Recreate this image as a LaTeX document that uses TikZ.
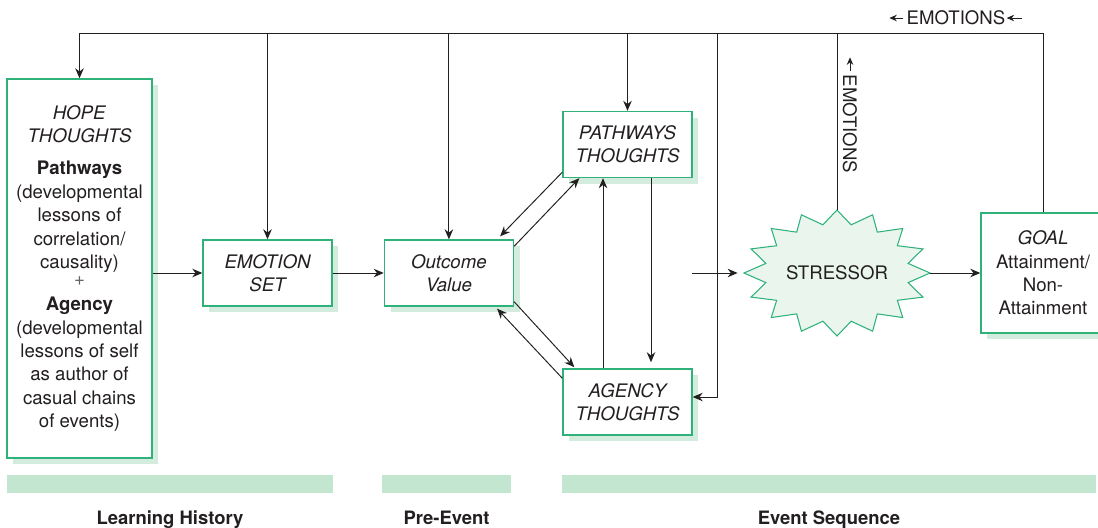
\documentclass[tikz,border=0pt]{standalone}
\usepackage{fontspec}
\setmainfont{TeX Gyre Heros}
\usetikzlibrary{arrows.meta,positioning,shapes.geometric,shadows,calc}
\definecolor{boxgreen}{HTML}{2FB27A}
\definecolor{shadegreen}{HTML}{D3ECDE}
\definecolor{bargreen}{HTML}{C2E6D0}
\definecolor{starfill}{HTML}{EAF5EE}
\definecolor{ink}{HTML}{231F20}
\newcommand{\dgmfont}{\fontsize{10.6}{13.3}\selectfont}

\begin{document}
\begin{tikzpicture}[
            x=0.2mm, y=-0.2mm,
            font=\dgmfont, text=ink,
            box/.style={draw=boxgreen, line width=0.8pt, fill=white,
            minimum width=25.8mm, minimum height=13.2mm,
            inner sep=1pt, align=center,
            drop shadow={shadow xshift=1.25mm, shadow yshift=-1.25mm,
            fill=shadegreen, opacity=1}},
            ibox/.style={box, font=\dgmfont\itshape},
            bar/.style={fill=bargreen, minimum height=3.6mm, inner sep=0pt},
            phase/.style={font=\fontsize{10.5}{12}\selectfont\bfseries, inner sep=0pt},
            lbl/.style={inner sep=0pt},
            ar/.style={-{Stealth[length=2mm,width=1.7mm]}, line width=0.55pt, draw=ink},
            ln/.style={line width=0.55pt, draw=ink},
            tip/.style={-{Stealth[length=1.5mm,width=1.3mm]}, line width=0.5pt, draw=ink}
        ]
            \path[use as bounding box, clip] (0,0) rectangle (1098,527);
% learning history and pre-event boxes
            \node[box, minimum width=29mm, minimum height=75.8mm] (hope) at (79.5,268.5)
              {\textit{HOPE}\\\textit{THOUGHTS}\\[5pt]\textbf{Pathways}\\(developmental\\lessons of\\correlation/\\causality)\\[-3.5pt]{\color{ink!70}+}\\[1pt]\textbf{Agency}\\(developmental\\lessons of self\\as author of\\casual chains\\of events)};
            \node[ibox] (emo) at (267.5,273) {EMOTION\\SET};
            \node[ibox, right=10.2mm of emo] (ov) {Outcome\\Value};
% event sequence
            \node[ibox] (pw) at (627.5,144.5) {PATHWAYS\\THOUGHTS};
            \node[ibox, below=38mm of pw] (ag) {AGENCY\\THOUGHTS};
            \coordinate (stc) at (837,273);
            \draw[draw=boxgreen, line width=0.6pt, fill=starfill]
              ($(stc)+(90:93 and 63)$)
              \foreach \k in {1,...,31} {
                -- ($(stc)+({90+11.25*\k}:{(0.89+0.11*cos(180*\k))*93} and {(0.89+0.11*cos(180*\k))*63})$)
              } -- cycle;
            \node[ellipse, minimum width=37.2mm, minimum height=25.2mm, inner sep=0pt] (st) at (stc) {STRESSOR};
            \node[box, minimum width=24.8mm, minimum height=24mm] (goal) at (1043,273)
              {\textit{GOAL}\\Attainment/\\Non-\\Attainment};
% feedback rail
            \coordinate (rail) at (0,33);
            \coordinate (ret)  at (717,397);
            \coordinate (pair) at (692,273);
            \node[lbl] (emtop) at (956,18) {EMOTIONS};
            \node[lbl, rotate=-90] (emside) at (850,124) {EMOTIONS};
            \draw[tip] ([xshift=-0.6mm]emtop.west) -- ++(-14,0);
            \draw[tip] ([xshift=3.2mm]emtop.east) -- ([xshift=0.2mm]emtop.east);
            \draw[tip] ([yshift=0.6mm]emside.west) -- ++(0,-14);

            \draw[ar] (goal.north) |- (hope.north |- rail) -- (hope.north);
            \draw[ln] (st.north) -- (st.north |- rail);
            \draw[ar] (emo.north |- rail) -- (emo.north);
            \draw[ar] (ov.north |- rail) -- (ov.north);
            \draw[ar] (pw.north |- rail) -- (pw.north);
            \draw[ar] (ret |- rail) -- (ret) -- (ag.east |- ret);
% main flow
            \draw[ar] (hope.east |- emo.west) -- (emo.west);
            \draw[ar] (emo) -- (ov);
            \draw[ar] ([yshift=1.2mm]pw.south west) -- ([xshift=-2.8mm,yshift=0.6mm]ov.north east);
            \draw[ar] ([yshift=-1.4mm]ov.north east) -- ([xshift=3.4mm]pw.south west);
            \draw[ar] ([yshift=1mm]ov.south east) -- ([xshift=2.4mm,yshift=0.2mm]ag.north west);
            \draw[ar] ([yshift=-2mm]ag.north west) -- ([xshift=-3.4mm,yshift=-0.4mm]ov.south east);
            \draw[ar] ([xshift=-4.9mm]ag.north) -- ([xshift=-4.9mm]pw.south);
            \draw[ar] ([xshift=4.7mm]pw.south) -- ([xshift=4.7mm,yshift=1.2mm]ag.north);
            \draw[ar] (pair) -- ([xshift=-1.2mm]st.west);
            \draw[ar] (st.east) -- (goal.west);
% phase bars
            \node[bar, minimum width=65.2mm]  (lhbar) at (170,484) {};
            \node[bar, minimum width=25.8mm]  (pebar) at (446.5,484) {};
            \node[bar, minimum width=106.8mm] (esbar) at (829,484) {};
            \node[phase, below=3.4mm of lhbar] (lh) {Learning History};
            \node[phase, below=3.4mm of pebar] (pe) {Pre-Event};
            \node[phase, below=3.4mm of esbar] (es) {Event Sequence};
        \end{tikzpicture}
\end{document}
